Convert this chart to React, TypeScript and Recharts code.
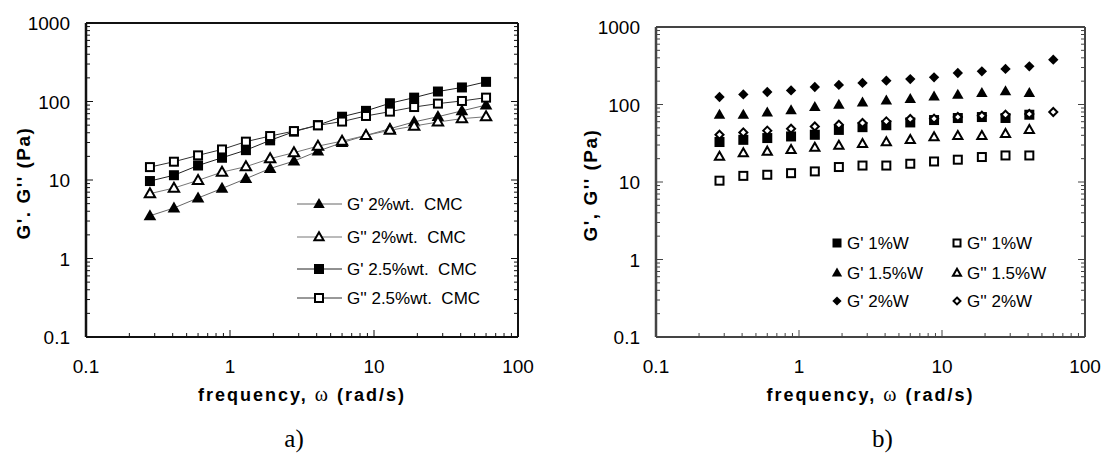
import React from 'react';
import { ScatterChart, Scatter, XAxis, YAxis, Legend } from 'recharts';

// angular frequency (rad/s), same sweep in both panels
const freq = [0.278, 0.408, 0.6, 0.88, 1.29, 1.9, 2.78, 4.08, 6.0, 8.8, 12.9, 19.0, 27.8, 40.8, 60.0];

// panel a) CMC solutions
const gp2cmc = [3.5, 4.4, 5.9, 7.8, 10.4, 14, 17.4, 23.3, 29.9, 37, 45, 55, 64, 76, 90];
const gpp2cmc = [6.7, 7.9, 9.9, 12.6, 14.8, 18.7, 22.3, 27, 31.3, 37, 43, 48.7, 54.8, 60.5, 64];
const gp25cmc = [9.7, 11.5, 15.3, 19.2, 24, 32, 41.3, 50, 64, 76, 95, 112, 134, 151, 178];
const gpp25cmc = [14.6, 17.1, 20.6, 24.5, 30.8, 36.3, 42, 49.7, 55.5, 65.4, 74.3, 85, 94, 101.6, 112];

// panel b) W solutions
const gp1w = [32.8, 35, 36.9, 38.7, 40.7, 47, 51, 54, 58.7, 63, 66.9, 68.9, 67, 73.8];
const gpp1w = [10.4, 12, 12.4, 13, 13.7, 15.6, 16.3, 16.3, 17.2, 18.4, 19.4, 21, 22, 22];
const gp15w = [74, 74, 79, 84, 93, 99, 106, 113, 118, 127, 134, 141, 148, 141];
const gpp15w = [21.3, 23.6, 24.8, 26, 27.9, 29.6, 31.2, 32.8, 35, 38, 39.5, 39.5, 42, 47.2];
const gp2w = [125, 135, 145, 152, 168, 179, 190, 203, 213, 224, 255, 268, 288, 311, 379];
const gpp2w = [40.7, 43.6, 46, 48.7, 52, 54.8, 57.7, 60.5, 65, 65.6, 68.9, 71.6, 73.8, 75.4, 80];

const xTicks = [0.1, 0.2, 0.3, 0.4, 0.5, 0.6, 0.7, 0.8, 0.9, 1, 2, 3, 4, 5, 6, 7, 8, 9, 10, 20, 30, 40, 50, 60, 70, 80, 90, 100];
const yTicks = [0.1, 0.2, 0.3, 0.4, 0.5, 0.6, 0.7, 0.8, 0.9, 1, 2, 3, 4, 5, 6, 7, 8, 9, 10, 20, 30, 40, 50, 60, 70, 80, 90, 100, 200, 300, 400, 500, 600, 700, 800, 900, 1000];

const toPoints = (vals: number[]) => vals.map((v, i) => ({ x: freq[i], y: v }));

const SANS = '"Liberation Sans", Arial, sans-serif';
const SERIF = '"Liberation Serif", "Times New Roman", serif';

const isDecade = (v: number) => Math.abs(Math.log10(v) - Math.round(Math.log10(v))) < 1e-6;

type Kind = 'triangle' | 'square' | 'diamond';

function Marker({ cx, cy, kind, filled, s }: { cx: number; cy: number; kind: Kind; filled: boolean; s: number }) {
  const fill = filled ? '#000' : '#fff';
  const sw = filled ? 0 : 2;
  const h = filled ? s / 2 : s / 2 - 1;
  if (kind === 'square') {
    return <rect x={cx - h} y={cy - h} width={2 * h} height={2 * h} fill={fill} stroke="#000" strokeWidth={sw} />;
  }
  if (kind === 'diamond') {
    const d = h * 1.15;
    return <polygon points={`${cx},${cy - d} ${cx + d},${cy} ${cx},${cy + d} ${cx - d},${cy}`} fill={fill} stroke="#000" strokeWidth={sw} strokeLinejoin="miter" />;
  }
  const w = h * 1.15;
  return <polygon points={`${cx},${cy - h * 1.2} ${cx + w},${cy + h * 0.8} ${cx - w},${cy + h * 0.8}`} fill={fill} stroke="#000" strokeWidth={sw} strokeLinejoin="miter" />;
}

const BottomTick = ({ x, y, payload, color }: any) => {
  const major = isDecade(payload.value);
  return (
    <g>
      <line x1={x} x2={x} y1={y} y2={y - (major ? 7 : 4)} stroke={color} strokeWidth={1} />
      {major && (
        <text x={x} y={y + 36} textAnchor="middle" fontFamily={SANS} fontSize={19} fill="#000">
          {String(payload.value)}
        </text>
      )}
    </g>
  );
};

const TopTick = ({ x, y, payload, color }: any) => {
  const major = isDecade(payload.value);
  return <line x1={x} x2={x} y1={y} y2={y + (major ? 7 : 4)} stroke={color} strokeWidth={1} />;
};

const LeftTick = ({ x, y, payload, color }: any) => {
  const major = isDecade(payload.value);
  return (
    <g>
      <line x1={x} x2={x + (major ? 7 : 4)} y1={y} y2={y} stroke={color} strokeWidth={1} />
      {major && (
        <text x={x - 16} y={y + 7} textAnchor="end" fontFamily={SANS} fontSize={19} fill="#000">
          {String(payload.value)}
        </text>
      )}
    </g>
  );
};

const RightTick = ({ x, y, payload, color }: any) => {
  const major = isDecade(payload.value);
  return <line x1={x} x2={x - (major ? 7 : 4)} y1={y} y2={y} stroke={color} strokeWidth={1} />;
};

const XTitle = ({ viewBox, caption, capDx }: any) => {
  const { x, y, width } = viewBox;
  const cx = x + width / 2;
  return (
    <g>
      <text x={cx} y={y + 64} textAnchor="middle" fontFamily={SANS} fontWeight="bold" fontSize={18} letterSpacing={2} fill="#000">
        frequency, <tspan fontFamily={SERIF} fontWeight="normal" fontSize={20}>ω</tspan> (rad/s)
      </text>
      <text x={cx + capDx} y={y + 110} textAnchor="middle" fontFamily={SERIF} fontSize={25} fill="#000">
        {caption}
      </text>
    </g>
  );
};

const YTitle = ({ viewBox, text, dx }: any) => {
  const { x, y, height } = viewBox;
  const tx = x - dx;
  const ty = y + height / 2 + 3;
  return (
    <text x={tx} y={ty} transform={`rotate(-90 ${tx} ${ty})`} textAnchor="middle" dominantBaseline="central" fontFamily={SANS} fontWeight="bold" fontSize={19} letterSpacing={1.5} fill="#000">
      {text}
    </text>
  );
};

type Series = { name: string; vals: number[]; kind: Kind; filled: boolean; line?: string };

const seriesA: Series[] = [
  { name: "G' 2%wt.  CMC", vals: gp2cmc, kind: 'triangle', filled: true, line: '#666' },
  { name: "G'' 2%wt.  CMC", vals: gpp2cmc, kind: 'triangle', filled: false, line: '#777' },
  { name: "G' 2.5%wt.  CMC", vals: gp25cmc, kind: 'square', filled: true, line: '#222' },
  { name: "G'' 2.5%wt.  CMC", vals: gpp25cmc, kind: 'square', filled: false, line: '#333' },
];

const seriesB: Series[] = [
  { name: "G' 1%W", vals: gp1w, kind: 'square', filled: true },
  { name: "G'' 1%W", vals: gpp1w, kind: 'square', filled: false },
  { name: "G' 1.5%W", vals: gp15w, kind: 'triangle', filled: true },
  { name: "G'' 1.5%W", vals: gpp15w, kind: 'triangle', filled: false },
  { name: "G' 2%W", vals: gp2w, kind: 'diamond', filled: true },
  { name: "G'' 2%W", vals: gpp2w, kind: 'diamond', filled: false },
];

const LegendA = () => (
  <svg width={220} height={125} style={{ display: 'block' }}>
    {seriesA.map((s, i) => {
      const y = [14, 47, 79, 108][i];
      return (
        <g key={s.name}>
          <line x1={7} x2={52} y1={y} y2={y} stroke={s.line} strokeWidth={1} />
          <Marker cx={29} cy={y} kind={s.kind} filled={s.filled} s={10} />
          <text x={57} y={y + 6} fontFamily={SANS} fontSize={17} fill="#000" style={{ whiteSpace: 'pre' }}>
            {s.name}
          </text>
        </g>
      );
    })}
  </svg>
);

const LegendB = () => (
  <svg width={240} height={90} style={{ display: 'block' }}>
    {seriesB.map((s, i) => {
      const y = [15, 45, 73][Math.floor(i / 2)];
      const x = i % 2 === 0 ? 17 : 137;
      return (
        <g key={s.name}>
          <Marker cx={x} cy={y} kind={s.kind} filled={s.filled} s={s.kind === 'diamond' ? 8 : 9} />
          <text x={x + 10} y={y + 6} fontFamily={SANS} fontSize={17} fill="#000">
            {s.name}
          </text>
        </g>
      );
    })}
  </svg>
);

function Panel({ series, width, margin, frame, frameWidth, yTitle, yTitleDx, caption, capDx, legend, legendPos, withLines, markerSize }: any) {
  return (
    <ScatterChart width={width} height={454} margin={margin}>
      <XAxis
        dataKey="x"
        type="number"
        scale="log"
        domain={[0.1, 100]}
        allowDataOverflow
        ticks={xTicks}
        interval={0}
        height={1}
        tickSize={0}
        tickMargin={0}
        tickLine={false}
        axisLine={{ stroke: frame, strokeWidth: frameWidth }}
        tick={<BottomTick color={frame} />}
        label={(p: any) => <XTitle {...p} caption={caption} capDx={capDx} />}
      />
      <XAxis
        xAxisId="top"
        orientation="top"
        type="number"
        scale="log"
        domain={[0.1, 100]}
        allowDataOverflow
        ticks={xTicks}
        interval={0}
        height={1}
        tickSize={0}
        tickMargin={0}
        tickLine={false}
        axisLine={{ stroke: frame, strokeWidth: frameWidth }}
        tick={<TopTick color={frame} />}
      />
      <YAxis
        dataKey="y"
        type="number"
        scale="log"
        domain={[0.1, 1000]}
        allowDataOverflow
        ticks={yTicks}
        interval={0}
        width={1}
        tickSize={0}
        tickMargin={0}
        tickLine={false}
        axisLine={{ stroke: frame, strokeWidth: frameWidth + 0.5 }}
        tick={<LeftTick color={frame} />}
        label={(p: any) => <YTitle {...p} text={yTitle} dx={yTitleDx} />}
      />
      <YAxis
        yAxisId="right"
        orientation="right"
        type="number"
        scale="log"
        domain={[0.1, 1000]}
        allowDataOverflow
        ticks={yTicks}
        interval={0}
        width={1}
        tickSize={0}
        tickMargin={0}
        tickLine={false}
        axisLine={{ stroke: frame, strokeWidth: frameWidth }}
        tick={<RightTick color={frame} />}
      />
      {series.map((s: Series) => (
        <Scatter
          key={s.name}
          name={s.name}
          data={toPoints(s.vals)}
          isAnimationActive={false}
          line={withLines ? { stroke: s.line, strokeWidth: 1 } : false}
          lineType="joint"
          shape={(p: any) => <Marker cx={p.cx} cy={p.cy} kind={s.kind} filled={s.filled} s={markerSize(s)} />}
        />
      ))}
      <Legend
        layout="vertical"
        align="center"
        verticalAlign="middle"
        content={legend}
        wrapperStyle={{ left: legendPos[0], top: legendPos[1], width: 'auto', margin: 0 }}
      />
    </ScatterChart>
  );
}

export default function App() {
  return (
    <div style={{ position: 'absolute', left: 0, top: 0, width: 1102, height: 454, background: '#fff' }}>
      <div style={{ position: 'absolute', left: 0, top: 0 }}>
        <Panel
          series={seriesA}
          width={560}
          margin={{ top: 22, right: 41, bottom: 116, left: 85 }}
          frame="#111"
          frameWidth={2}
          yTitle="G'. G'' (Pa)"
          yTitleDx={62}
          caption="a)"
          capDx={-8}
          legend={() => <LegendA />}
          legendPos={[290, 190]}
          withLines
          markerSize={(s: Series) => (s.kind === 'triangle' ? 11 : 10)}
        />
      </div>
      <div style={{ position: 'absolute', left: 560, top: 0 }}>
        <Panel
          series={seriesB}
          width={542}
          margin={{ top: 26, right: 16, bottom: 116, left: 95 }}
          frame="#444"
          frameWidth={2}
          yTitle="G', G'' (Pa)"
          yTitleDx={65}
          caption="b)"
          capDx={12}
          legend={() => <LegendB />}
          legendPos={[260, 228]}
          withLines={false}
          markerSize={(s: Series) => (s.kind === 'diamond' ? 9 : 10)}
        />
      </div>
    </div>
  );
}
